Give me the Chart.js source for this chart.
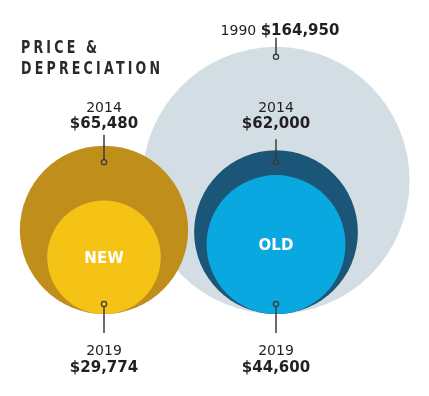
<!DOCTYPE html>
<html><head><meta charset="utf-8">
<script src="https://cdn.jsdelivr.net/npm/chart.js@4/dist/chart.umd.min.js"></script>
<style>html,body{margin:0;padding:0;background:#fff;}</style>
</head><body>
<canvas id="c" width="429" height="396"></canvas>
<script>
const titleLines = ['PRICE &', 'DEPRECIATION'];
const categories = ['NEW', 'OLD'];
const years = ['1990', '2014', '2019'];
const price1990 = [null, 164950];
const price2014 = [65480, 62000];
const price2019 = [29774, 44600];
const colors1990 = ['#D3DEE4', '#D3DEE4'];
const colors2014 = ['#C08F1B', '#1B5679'];
const colors2019 = ['#F5C216', '#0AA8E0'];

const toPoints = arr => arr.map((v, i) => v == null ? null : { x: categories[i], y: Math.sqrt(v / 1000), v: v }).filter(Boolean);
const fmt = v => '$' + v.toLocaleString('en-US');
const colorFor = cols => ctx => ctx.raw ? cols[categories.indexOf(ctx.raw.x)] : cols[0];
const radiusFromScale = ctx => {
  const s = ctx.chart.scales.y;
  if (!ctx.raw || !s) return 0;
  return s.getPixelForValue(0) - s.getPixelForValue(ctx.raw.y);
};

const TEXT = '#231F20';
const LBL_REG = '14px "DejaVu Sans"';
const LBL_BOLD = 'bold 15px "DejaVu Sans"';

function marker(ctx, x, y1, y2, dotY) {
  ctx.save();
  ctx.strokeStyle = '#3a3a3a';
  ctx.lineWidth = 1.5;
  ctx.beginPath(); ctx.moveTo(x, y1); ctx.lineTo(x, y2); ctx.stroke();
  ctx.lineWidth = 1.3;
  ctx.beginPath(); ctx.arc(x, dotY, 2.6, 0, Math.PI * 2); ctx.stroke();
  ctx.restore();
}

function drawTitle(ctx) {
  ctx.save();
  ctx.fillStyle = '#2a2a2a';
  ctx.font = 'bold 18px "DejaVu Sans"';
  ctx.textAlign = 'left'; ctx.textBaseline = 'alphabetic';
  const sx = 0.7;
  try { ctx.letterSpacing = (3.2 / sx) + 'px'; } catch (e) {}
  ctx.translate(21, 0);
  ctx.scale(sx, 1);
  ctx.fillText(titleLines[0], 0, 53);
  ctx.fillText(titleLines[1], 0, 74);
  ctx.restore();
}

const annot = {
  id: 'annot',
  afterDatasetsDraw(chart) {
    const ctx = chart.ctx;
    drawTitle(ctx);
    ctx.save();
    chart.data.datasets.forEach((ds, di) => {
      const meta = chart.getDatasetMeta(di);
      let rowTop = -Infinity;
      meta.data.forEach(el => { rowTop = Math.max(rowTop, el.y - el.options.radius); });
      meta.data.forEach((el, i) => {
        const p = ds.data[i];
        const r = el.options.radius;
        const top = el.y - r, bottom = el.y + r;
        const x = el.x;
        ctx.fillStyle = TEXT;
        if (di === 0) {
          const dotY = top + 10;
          marker(ctx, x, top - 9, dotY - 2.6, dotY);
          ctx.font = LBL_REG;
          const yw = ctx.measureText(ds.label + ' ').width;
          ctx.font = LBL_BOLD;
          const vw = ctx.measureText(fmt(p.v)).width;
          const sx = x + 4 - (yw + vw) / 2;
          ctx.textAlign = 'left';
          ctx.font = LBL_REG; ctx.fillText(ds.label + ' ', sx, top - 12);
          ctx.font = LBL_BOLD; ctx.fillText(fmt(p.v), sx + yw, top - 12);
        } else if (di === 1) {
          const dotY = rowTop + 12;
          marker(ctx, x, top - 11, dotY - 2.6, dotY);
          ctx.textAlign = 'center';
          ctx.font = LBL_REG; ctx.fillText(ds.label, x, dotY - 50);
          ctx.font = LBL_BOLD; ctx.fillText(fmt(p.v), x, dotY - 34);
        } else {
          const dotY = bottom - 10;
          marker(ctx, x, dotY + 2.6, bottom + 19, dotY);
          ctx.textAlign = 'center';
          ctx.font = LBL_REG; ctx.fillText(ds.label, x, bottom + 41);
          ctx.font = LBL_BOLD; ctx.fillText(fmt(p.v), x, bottom + 58);
          ctx.fillStyle = '#FFFFFF';
          ctx.font = 'bold 15px "DejaVu Sans"';
          ctx.textBaseline = 'middle';
          ctx.fillText(p.x, x, el.y + 2);
          ctx.textBaseline = 'alphabetic';
        }
      });
    });
    ctx.restore();
  }
};

const mkDs = (label, prices, cols, order) => ({
  label: label, data: toPoints(prices), order: order, clip: false, showLine: false,
  pointRadius: radiusFromScale, pointHoverRadius: radiusFromScale,
  pointBackgroundColor: colorFor(cols), pointBorderWidth: 0, pointHitRadius: 0
});

new Chart(document.getElementById('c'), {
  type: 'scatter',
  data: {
    datasets: [
      mkDs(years[0], price1990, colors1990, 3),
      mkDs(years[1], price2014, colors2014, 2),
      mkDs(years[2], price2019, colors2019, 1)
    ]
  },
  options: {
    responsive: false,
    animation: false,
    events: [],
    layout: { padding: { left: 18, right: 67, top: 2, bottom: 82 } },
    plugins: { legend: { display: false }, tooltip: { enabled: false }, title: { display: false } },
    scales: {
      x: { type: 'category', labels: categories, offset: true, display: false },
      y: { type: 'linear', min: 0, max: 30, display: false }
    }
  },
  plugins: [annot]
});
</script>
</body></html>
